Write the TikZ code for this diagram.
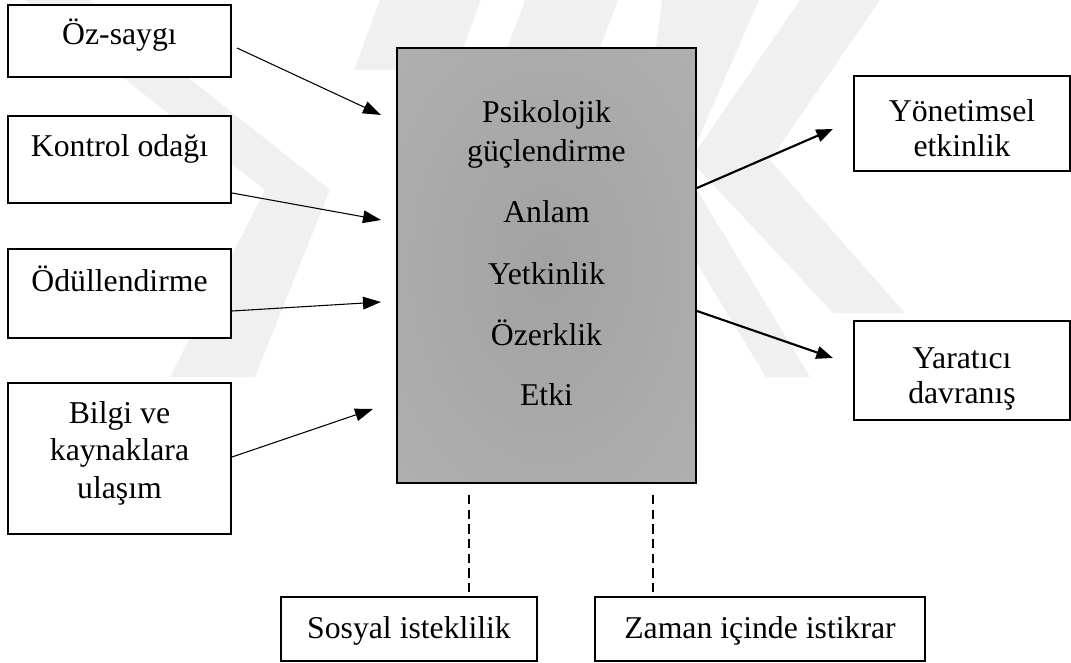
\documentclass[tikz,border=0pt]{standalone}
\usepackage{fontspec}
\setmainfont{Liberation Serif}
\usetikzlibrary{arrows.meta,fit}
\definecolor{ctr}{HTML}{A2A2A2}
\definecolor{edg}{HTML}{B8B8B8}
\definecolor{wmark}{HTML}{F0F0F0}
\pgfdeclareradialshading{boxshade}{\pgfpoint{0bp}{0bp}}{color(0bp)=(ctr); color(58bp)=(edg); color(72bp)=(edg)}
\tikzset{
  box/.style={draw, line width=1.5pt, inner sep=0pt, fill=white},
  cbox/.style={draw, line width=1.5pt, inner sep=0pt, shading=boxshade},
  txt/.style={font=\fontsize{23.8}{27.5}\selectfont, inner sep=0pt, anchor=base},
  thinarrow/.style={line width=0.8pt, -{Triangle[length=13.5pt,width=9.5pt]}},
  thickarrow/.style={line width=1.6pt, -{Triangle[length=12.5pt,width=9.5pt]}},
  dashline/.style={line width=1.2pt, dash pattern=on 7pt off 4pt},
  wm/.style={fill=wmark, draw=none}
}
\begin{document}
\begin{tikzpicture}[x=0.75pt,y=-0.75pt]
\useasboundingbox (0,0) rectangle (1071,663);
% faint background watermark
\fill[wm] (25,0) -- (90,0) -- (330,190) -- (255,377) -- (170,377) -- (265,190) -- cycle;
\fill[wm] (662,0) -- (759,0) -- (685,170) -- (810,377) -- (766,377) -- (640,170) -- cycle;
\fill[wm] (800,0) -- (880,0) -- (770,160) -- (905,313) -- (833,313) -- (690,160) -- cycle;
\fill[wm] (380,0) -- (481,0) -- (455,70) -- (354,70) -- cycle;
\fill[wm] (525,0) -- (618,0) -- (592,70) -- (499,70) -- cycle;
% boxes
\node[box, fit={(8,5)(231,77)}] (oz) {};
\node[box, fit={(8,116)(231,203)}] (ko) {};
\node[box, fit={(8,249)(231,338)}] (od) {};
\node[box, fit={(8,383)(231,534)}] (bk) {};
\node[cbox, fit={(397,48)(696,483)}] (pg) {};
\node[box, fit={(854,76)(1069.5,171)}] (yo) {};
\node[box, fit={(854,321)(1069.5,420)}] (ya) {};
\node[box, fit={(281,597)(537,661)}] (so) {};
\node[box, fit={(595,597)(925,661)}] (za) {};
% texts
\node[txt] (tOz) at (119.5,45) {Öz-saygı};
\node[txt] (tKo) at (119.5,157) {Kontrol odağı};
\node[txt] (tOd) at (119.5,291) {Ödüllendirme};
\node[txt] (tBk1) at (119.5,423) {Bilgi ve};
\node[txt] (tBk2) at (119.5,460) {kaynaklara};
\node[txt] (tBk3) at (119.5,498) {ulaşım};
\node[txt] (tPg1) at (546.5,123) {Psikolojik};
\node[txt] (tPg2) at (546.5,162) {güçlendirme};
\node[txt] (tPg3) at (546.5,223) {Anlam};
\node[txt] (tPg4) at (546.5,284) {Yetkinlik};
\node[txt] (tPg5) at (546.5,345) {Özerklik};
\node[txt] (tPg6) at (546.5,405) {Etki};
\node[txt] (tYo1) at (962,122) {Yönetimsel};
\node[txt] (tYo2) at (962,157) {etkinlik};
\node[txt] (tYa1) at (962,368) {Yaratıcı};
\node[txt] (tYa2) at (962,403) {davranış};
\node[txt] (tSo) at (409,638) {Sosyal isteklilik};
\node[txt] (tZa) at (760,638) {Zaman içinde istikrar};
% arrow end points
\coordinate (s1) at (237,48);  \coordinate (e1) at (381,115);
\coordinate (s2) at (ko.east |- 0,193); \coordinate (e2) at (381,220);
\coordinate (s3) at (od.east |- 0,311); \coordinate (e3) at (381,302);
\coordinate (s4) at (bk.east |- 0,457); \coordinate (e4) at (373,409);
\coordinate (s5) at (pg.east |- 0,188); \coordinate (e5) at (833,129);
\coordinate (s6) at (pg.east |- 0,311); \coordinate (e6) at (833,358);
\coordinate (d1) at (469,495);
\coordinate (d2) at (653,495);
\draw[thinarrow] (s1) -- (e1);
\draw[thinarrow] (s2) -- (e2);
\draw[thinarrow] (s3) -- (e3);
\draw[thinarrow] (s4) -- (e4);
\draw[thickarrow] (s5) -- (e5);
\draw[thickarrow] (s6) -- (e6);
\draw[dashline] (d1) -- (d1 |- so.north);
\draw[dashline] (d2) -- (d2 |- za.north);
\end{tikzpicture}
\end{document}
